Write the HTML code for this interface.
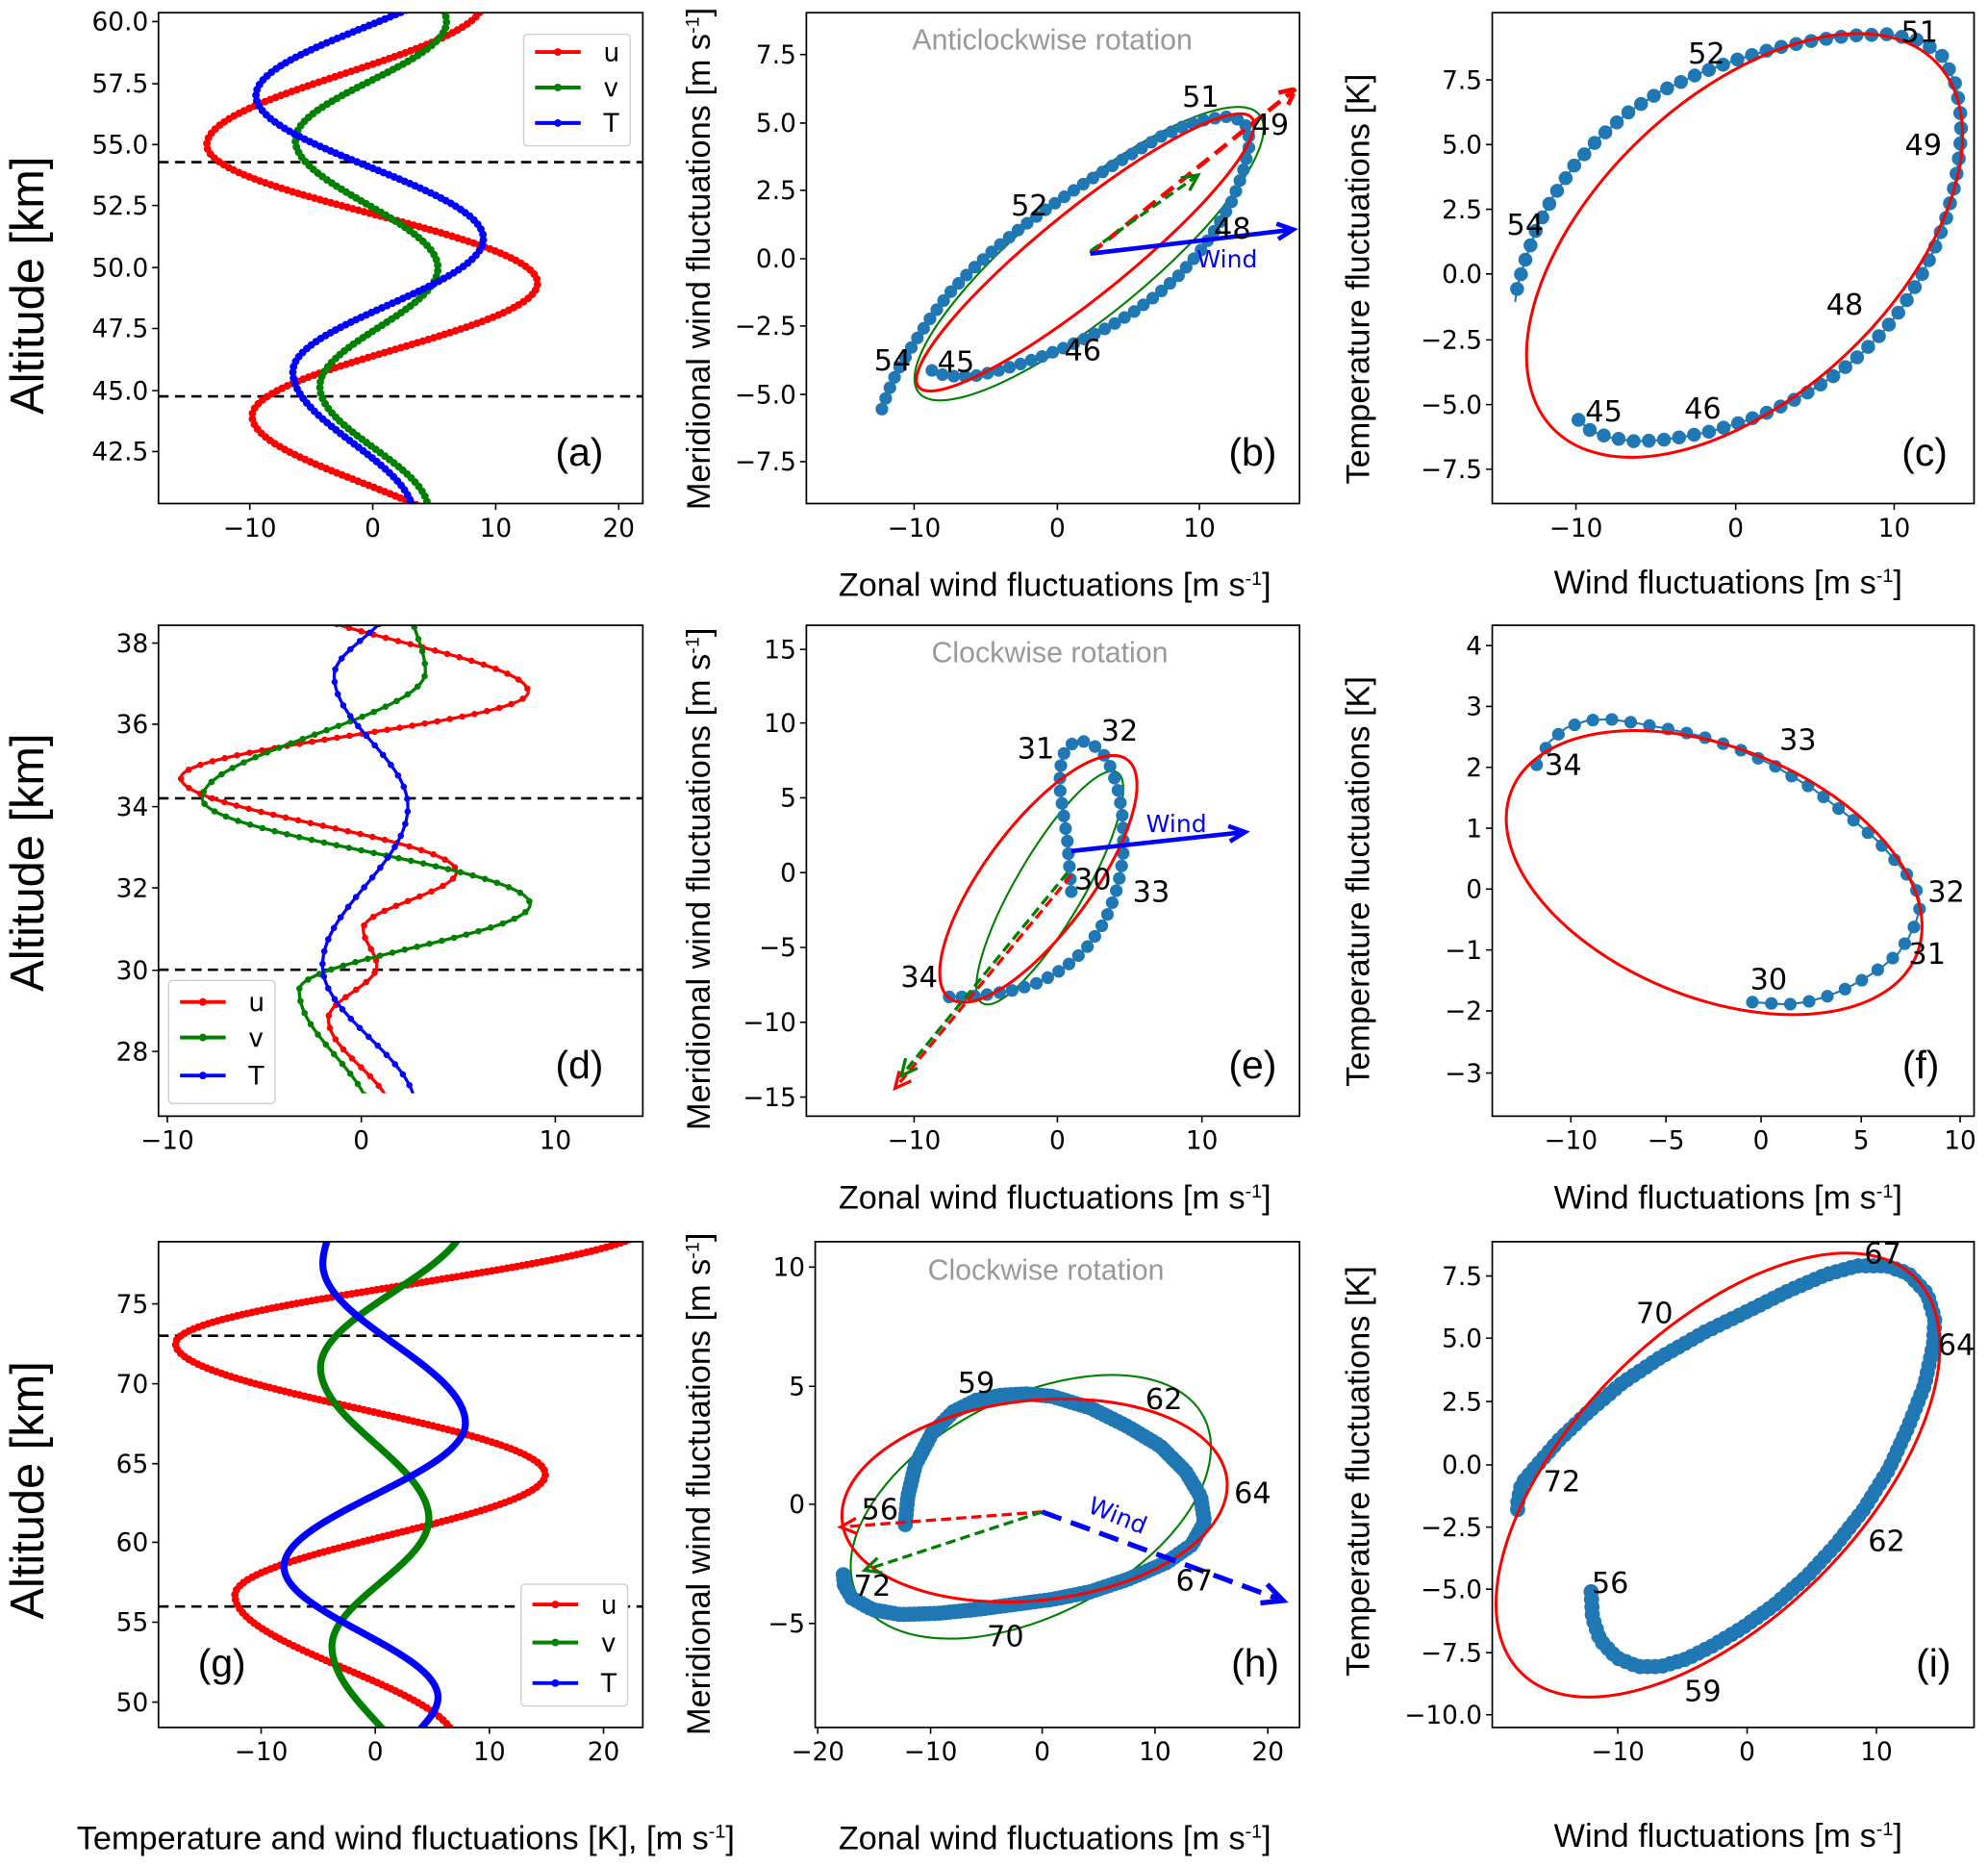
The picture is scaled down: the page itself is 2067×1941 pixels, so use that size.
<!DOCTYPE html>
<html><head><meta charset="utf-8"><style>
html,body{margin:0;padding:0;background:#fff}
svg{display:block}
text{font-family:"DejaVu Sans","Liberation Sans",sans-serif;fill:#000}
.yt{font-size:20px;text-anchor:end}
.xt{font-size:20px;text-anchor:middle}
.lab{font-family:"Liberation Sans",sans-serif;font-size:26px;text-anchor:middle}
.alt{font-family:"Liberation Sans",sans-serif;font-size:37px;text-anchor:middle}
.pl{font-family:"Liberation Sans",sans-serif;font-size:31px;text-anchor:middle}
.num{font-size:23px;text-anchor:middle}
.ttl{font-family:"Liberation Sans",sans-serif;font-size:23px;text-anchor:middle;fill:#999}
.lg{font-size:20px}
.bl{fill:none;stroke:#1f77b4;stroke-width:1.6}
.bd{fill:none;stroke:#1f77b4;stroke-linecap:round}
</style></head><body>
<svg xmlns="http://www.w3.org/2000/svg" width="2067" height="1941" viewBox="0 0 1568 1472" preserveAspectRatio="none">
<rect width="1568" height="1472" fill="#fff"/>
<defs>
<clipPath id="ca"><rect x="125" y="10" width="382" height="387"/></clipPath>
<clipPath id="cd"><rect x="125" y="493" width="382" height="369"/></clipPath>
<clipPath id="cg"><rect x="125" y="979" width="382" height="383"/></clipPath>
</defs>

<g stroke="#000" stroke-width="2" stroke-dasharray="8,5"><line x1="125" y1="127.8" x2="507" y2="127.8"/><line x1="125" y1="312.5" x2="507" y2="312.5"/>
<line x1="125" y1="629.4" x2="507" y2="629.4"/><line x1="125" y1="764.6" x2="507" y2="764.6"/>
<line x1="125" y1="1053.1" x2="507" y2="1053.1"/><line x1="125" y1="1266.6" x2="507" y2="1266.6"/></g>
<g clip-path="url(#ca)" fill="none" stroke-linecap="round">
<g stroke="#f00"><path d="M381.3,1.5 C381.3,42.1 163.1,73.6 163.1,114.2 C163.1,153.4 424,183.9 424,223.1 C424,260.9 198.9,290.2 198.9,328 C198.9,365.8 371.6,395.2 371.6,433" stroke-width="3"/>
<path d="M381.3,1.5 C381.3,42.1 163.1,73.6 163.1,114.2 C163.1,153.4 424,183.9 424,223.1 C424,260.9 198.9,290.2 198.9,328 C198.9,365.8 371.6,395.2 371.6,433" stroke-width="6" stroke-dasharray="0 4.5"/></g>
<g stroke="#008000"><path d="M235.8,-80.2 C235.8,-45.2 352.2,-18 352.2,17 C352.2,50.6 232.9,76.7 232.9,110.3 C232.9,146.7 345.4,175 345.4,211.4 C345.4,245 252.3,271.1 252.3,304.7 C252.3,339.7 337.7,366.9 337.7,401.9" stroke-width="3"/>
<path d="M235.8,-80.2 C235.8,-45.2 352.2,-18 352.2,17 C352.2,50.6 232.9,76.7 232.9,110.3 C232.9,146.7 345.4,175 345.4,211.4 C345.4,245 252.3,271.1 252.3,304.7 C252.3,339.7 337.7,366.9 337.7,401.9" stroke-width="6" stroke-dasharray="0 4.5"/></g>
<g stroke="#00f"><path d="M371.6,-31.6 C371.6,6.9 201.9,36.8 201.9,75.3 C201.9,115.9 381.3,147.5 381.3,188.1 C381.3,225.9 231,255.2 231,293 C231,333.6 326,365.2 326,405.8" stroke-width="3"/>
<path d="M371.6,-31.6 C371.6,6.9 201.9,36.8 201.9,75.3 C201.9,115.9 381.3,147.5 381.3,188.1 C381.3,225.9 231,255.2 231,293 C231,333.6 326,365.2 326,405.8" stroke-width="6" stroke-dasharray="0 4.5"/></g>
</g>

<g clip-path="url(#cd)" fill="none" stroke-linecap="round">
<g stroke="#f00"><path d="M223.8,468.4 C223.8,496.2 416.6,517.8 416.6,545.6 C416.6,570 142.7,588.9 142.7,613.3 C142.7,639.9 360,660.7 360,687.3 C360,703.5 286.5,716.2 286.5,732.4 C286.5,742.8 297.2,751 297.2,761.4 C297.2,776.4 259,788.2 259,803.2 C259,829.9 308,850.6 308,877.3" stroke-width="2.5"/>
<path d="M223.8,468.4 C223.8,496.2 416.6,517.8 416.6,545.6 C416.6,570 142.7,588.9 142.7,613.3 C142.7,639.9 360,660.7 360,687.3 C360,703.5 286.5,716.2 286.5,732.4 C286.5,742.8 297.2,751 297.2,761.4 C297.2,776.4 259,788.2 259,803.2 C259,829.9 308,850.6 308,877.3" stroke-width="5" stroke-dasharray="0 10"/></g>
<g stroke="#008000"><path d="M323.3,474.8 C323.3,494.5 335.5,509.8 335.5,529.5 C335.5,565.5 159.5,593.4 159.5,629.4 C159.5,659.5 418.1,683 418.1,713.1 C418.1,737.4 236,756.4 236,780.7 C236,817.8 292.7,846.6 292.7,883.7" stroke-width="2.5"/>
<path d="M323.3,474.8 C323.3,494.5 335.5,509.8 335.5,529.5 C335.5,565.5 159.5,593.4 159.5,629.4 C159.5,659.5 418.1,683 418.1,713.1 C418.1,737.4 236,756.4 236,780.7 C236,817.8 292.7,846.6 292.7,883.7" stroke-width="5" stroke-dasharray="0 10"/></g>
<g stroke="#00f"><path d="M308,474.8 C308,495.7 263.6,511.9 263.6,532.8 C263.6,569.9 321.7,598.7 321.7,635.8 C321.7,681 254.4,716.2 254.4,761.4 C254.4,802 327.8,833.5 327.8,874.1" stroke-width="2.5"/>
<path d="M308,474.8 C308,495.7 263.6,511.9 263.6,532.8 C263.6,569.9 321.7,598.7 321.7,635.8 C321.7,681 254.4,716.2 254.4,761.4 C254.4,802 327.8,833.5 327.8,874.1" stroke-width="5" stroke-dasharray="0 10"/></g>
</g>

<g clip-path="url(#cg)" fill="none" stroke-linecap="round">
<g stroke="#f00"><path d="M512,965.2 C512,999.1 138.5,1025.5 138.5,1059.4 C138.5,1096.5 430.1,1125.3 430.1,1162.4 C430.1,1196.7 185.3,1223.5 185.3,1257.8 C185.3,1299.4 359,1331.8 359,1373.4" stroke-width="3.5"/>
<path d="M512,965.2 C512,999.1 138.5,1025.5 138.5,1059.4 C138.5,1096.5 430.1,1125.3 430.1,1162.4 C430.1,1196.7 185.3,1223.5 185.3,1257.8 C185.3,1299.4 359,1331.8 359,1373.4" stroke-width="6" stroke-dasharray="0 4"/></g>
<path d="M368,958.9 C368,1001.8 252.8,1035.3 252.8,1078.2 C252.8,1121.2 338.3,1154.6 338.3,1197.6 C338.3,1233.7 261.8,1261.9 261.8,1298 C261.8,1341 332,1374.4 332,1417.4" stroke="#008000" stroke-width="5.5"/>
<path d="M269,940.1 C269,960.4 254.6,976.3 254.6,996.6 C254.6,1041.8 367.1,1077 367.1,1122.2 C367.1,1162.9 224,1194.5 224,1235.2 C224,1272.3 345.5,1301.1 345.5,1338.2 C345.5,1357.6 314,1372.8 314,1392.2" stroke="#00f" stroke-width="5.5"/>
</g>

<g stroke="#000" stroke-width="1.2" fill="none">
<path d="M120,17h5M120,66h5M120,114h5M120,162h5M120,211h5M120,259h5M120,308h5M120,356h5M197,397v5M294,397v5M391,397v5M488,397v5"/>
<path d="M631,43h5M631,97h5M631,150h5M631,204h5M631,257h5M631,311h5M631,364h5M721,397v5M834,397v5M946,397v5"/>
<path d="M1172,63h5M1172,114h5M1172,165h5M1172,216h5M1172,268h5M1172,319h5M1172,370h5M1243,397v5M1369,397v5M1494,397v5"/>
<path d="M120,507h5M120,571h5M120,636h5M120,700h5M120,765h5M120,829h5M132,880v5M285,880v5M438,880v5"/>
<path d="M631,512h5M631,570h5M631,629h5M631,688h5M631,747h5M631,806h5M631,865h5M721,880v5M834,880v5M948,880v5"/>
<path d="M1172,509h5M1172,557h5M1172,605h5M1172,653h5M1172,701h5M1172,749h5M1172,797h5M1172,846h5M1239,880v5M1314,880v5M1389,880v5M1468,880v5M1546,880v5"/>
<path d="M120,1028h5M120,1091h5M120,1154h5M120,1216h5M120,1279h5M120,1342h5M206,1362v5M296,1362v5M386,1362v5M476,1362v5"/>
<path d="M638,999h5M638,1093h5M638,1186h5M638,1280h5M645,1362v5M734,1362v5M822,1362v5M911,1362v5M1000,1362v5"/>
<path d="M1172,1006h5M1172,1055h5M1172,1105h5M1172,1155h5M1172,1204h5M1172,1253h5M1172,1303h5M1172,1352h5M1276,1362v5M1378,1362v5M1480,1362v5"/>
</g>

<ellipse cx="859" cy="200" rx="173.3" ry="48" transform="rotate(-39.2 859 200)" fill="none" stroke="#008000" stroke-width="1.6"/>
<polyline class="bl" points="735,292 745,296 758,297 772,296 788,292 805,287 822,281 840,274 858,266 876,257 894,246 912,233 930,217 946,199 960,179 972,158 980,137 985,117 985,103 980,95 968,92 952,94 935,99 915,108 895,120 872,134 850,148 828,163 806,179 785,196 765,214 748,232 733,252 720,272 708,292 700,310 694,327"/>
<polyline class="bd" stroke-width="10" stroke-dasharray="0 9" points="735,292 745,296 758,297 772,296 788,292 805,287 822,281 840,274 858,266 876,257 894,246 912,233 930,217 946,199 960,179 972,158 980,137 985,117 985,103 980,95 968,92 952,94 935,99 915,108 895,120 872,134 850,148 828,163 806,179 785,196 765,214 748,232 733,252 720,272 708,292 700,310 694,327"/>
<ellipse cx="856" cy="199" rx="168.9" ry="34" transform="rotate(-38.9 856 199)" fill="none" stroke="#f00" stroke-width="2.3"/>
<g fill="none">
<path d="M860,200L1022,70M1008.4,73.1L1022,70L1016,82.6" stroke="#f00" stroke-width="3.5" stroke-dasharray="12,6"/>
<path d="M860,198L945,138" stroke="#008000" stroke-width="2.5" stroke-dasharray="8,4"/><path d="M931.2,140.3L945,138L938.2,150.2" stroke="#008000" stroke-width="2.5"/>
<path d="M860,200L1020,181M1006.8,176.4L1020,181L1008.2,188.5" stroke="#00f" stroke-width="3.5"/>
</g>

<polyline class="bl" points="1245,331 1255,340 1270,345 1290,348 1310,347 1330,344 1350,340 1370,334 1390,327 1410,318 1430,307 1450,294 1468,279 1485,262 1500,243 1513,222 1525,198 1535,172 1542,145 1546,118 1547,95 1543,68 1533,45 1515,32 1490,27 1460,28 1430,32 1400,38 1370,47 1340,58 1310,72 1285,88 1262,108 1242,130 1225,155 1212,180 1203,205 1197,225 1195,238"/>
<polyline class="bd" stroke-width="11" stroke-dasharray="0 12" points="1245,331 1255,340 1270,345 1290,348 1310,347 1330,344 1350,340 1370,334 1390,327 1410,318 1430,307 1450,294 1468,279 1485,262 1500,243 1513,222 1525,198 1535,172 1542,145 1546,118 1547,95 1543,68 1533,45 1515,32 1490,27 1460,28 1430,32 1400,38 1370,47 1340,58 1310,72 1285,88 1262,108 1242,130 1225,155 1212,180 1203,205 1197,225 1195,238"/>
<ellipse cx="1376" cy="193.5" rx="209" ry="117.4" transform="rotate(-43.4 1376 193.5)" fill="none" stroke="#f00" stroke-width="2.3"/>

<ellipse cx="828" cy="700" rx="105.4" ry="26.7" transform="rotate(-59.7 828 700)" fill="none" stroke="#008000" stroke-width="1.6"/>
<polyline class="bl" points="845,703 844,690 843,677 842,664 840,650 838,636 836,622 836,608 838,596 843,588 850,584 858,585 866,590 873,598 878,610 882,624 885,640 886,656 886,672 884,688 880,704 875,718 868,732 858,746 846,758 832,768 816,776 798,781 780,784 762,786 745,786"/>
<polyline class="bd" stroke-width="10" stroke-dasharray="0 10" points="845,703 844,690 843,677 842,664 840,650 838,636 836,622 836,608 838,596 843,588 850,584 858,585 866,590 873,598 878,610 882,624 885,640 886,656 886,672 884,688 880,704 875,718 868,732 858,746 846,758 832,768 816,776 798,781 780,784 762,786 745,786"/>
<ellipse cx="819" cy="693" rx="117.3" ry="42" transform="rotate(-53.3 819 693)" fill="none" stroke="#f00" stroke-width="2.3"/>
<g fill="none">
<path d="M845,690L706,858" stroke="#f00" stroke-width="2.5" stroke-dasharray="8,4"/><path d="M718.7,852.2L706,858L709.3,844.4" stroke="#f00" stroke-width="2.5"/>
<path d="M842,688L711,848" stroke="#008000" stroke-width="2.5" stroke-dasharray="8,4"/><path d="M723.7,842.1L711,848L714.3,834.4" stroke="#008000" stroke-width="2.5"/>
<path d="M845,671L982,656M968.8,651.3L982,656L970.1,663.4" stroke="#00f" stroke-width="3.5"/>
</g>

<polyline class="bl" points="1212,603 1222,585 1235,574 1252,568 1270,567 1290,570 1312,574 1340,580 1370,590 1400,604 1430,622 1460,645 1482,664 1498,682 1510,697 1514,710 1514,718 1510,730 1505,740 1497,752 1485,762 1470,772 1455,780 1440,786 1425,790 1410,792 1395,791 1380,790"/>
<polyline class="bd" stroke-width="10" stroke-dasharray="0 15" points="1212,603 1222,585 1235,574 1252,568 1270,567 1290,570 1312,574 1340,580 1370,590 1400,604 1430,622 1460,645 1482,664 1498,682 1510,697 1514,710 1514,718 1510,730 1505,740 1497,752 1485,762 1470,772 1455,780 1440,786 1425,790 1410,792 1395,791 1380,790"/>
<ellipse cx="1352" cy="688" rx="172.4" ry="98.5" transform="rotate(22.1 1352 688)" fill="none" stroke="#f00" stroke-width="2.3"/>

<ellipse cx="813" cy="1188" rx="153.7" ry="85.8" transform="rotate(-27.4 813 1188)" fill="none" stroke="#008000" stroke-width="1.6"/>
<polyline class="bd" stroke-width="12" stroke-dasharray="0 4" points="714,1202 716,1180 722,1155 735,1130 752,1113 770,1104 790,1100 810,1099 830,1101 860,1110 890,1125 915,1140 935,1160 947,1180 950,1200 940,1218 920,1232 890,1245 860,1255 830,1261 800,1265 770,1269 740,1272 710,1273 688,1269 672,1260 666,1250 665,1240"/>
<ellipse cx="816" cy="1183" rx="152.6" ry="78.8" transform="rotate(-6.2 816 1183)" fill="none" stroke="#f00" stroke-width="2.3"/>
<g fill="none">
<path d="M822,1192L663,1204" stroke="#f00" stroke-width="2.5" stroke-dasharray="8,4"/><path d="M676,1209.1L663,1204L675.1,1197" stroke="#f00" stroke-width="2.5"/>
<path d="M822,1192L682,1238" stroke="#008000" stroke-width="2.5" stroke-dasharray="8,4"/><path d="M695.9,1239.9L682,1238L692.1,1228.3" stroke="#008000" stroke-width="2.5"/>
<path d="M822,1192L1012,1262" stroke="#00f" stroke-width="4" stroke-dasharray="16,8"/><path d="M999.5,1249.1L1012,1262L994.1,1263.8" stroke="#00f" stroke-width="4"/>
</g>

<polyline class="bd" stroke-width="12" stroke-dasharray="0 6" points="1255,1255 1256,1275 1262,1293 1275,1307 1292,1314 1310,1314 1330,1308 1350,1298 1375,1283 1400,1265 1425,1243 1448,1218 1470,1190 1490,1158 1505,1125 1518,1092 1525,1060 1526,1040 1520,1020 1505,1004 1488,998 1465,998 1440,1005 1410,1018 1380,1033 1345,1050 1310,1070 1280,1090 1253,1113 1230,1135 1210,1158 1200,1170 1197,1185 1197,1195"/>
<ellipse cx="1355" cy="1163" rx="220" ry="113.4" transform="rotate(-45 1355 1163)" fill="none" stroke="#f00" stroke-width="2.3"/>

<g fill="none" stroke="#000" stroke-width="1.3">
<rect x="125" y="10" width="382" height="387"/><rect x="636" y="10" width="389" height="387"/><rect x="1177" y="10" width="380" height="387"/>
<rect x="125" y="493" width="382" height="387"/><rect x="636" y="493" width="389" height="387"/><rect x="1177" y="493" width="380" height="387"/>
<rect x="125" y="979" width="382" height="383"/><rect x="643" y="979" width="382" height="383"/><rect x="1177" y="979" width="380" height="383"/>
</g>
<g>
<text class="yt" x="117" y="24">60.0</text><text class="yt" x="117" y="73">57.5</text><text class="yt" x="117" y="121">55.0</text><text class="yt" x="117" y="169">52.5</text><text class="yt" x="117" y="218">50.0</text><text class="yt" x="117" y="266">47.5</text><text class="yt" x="117" y="315">45.0</text><text class="yt" x="117" y="363">42.5</text>
<text class="xt" x="197" y="423">−10</text><text class="xt" x="294" y="423">0</text><text class="xt" x="391" y="423">10</text><text class="xt" x="488" y="423">20</text>
<text class="yt" x="628" y="50">7.5</text><text class="yt" x="628" y="104">5.0</text><text class="yt" x="628" y="157">2.5</text><text class="yt" x="628" y="211">0.0</text><text class="yt" x="628" y="264">−2.5</text><text class="yt" x="628" y="318">−5.0</text><text class="yt" x="628" y="371">−7.5</text>
<text class="xt" x="721" y="423">−10</text><text class="xt" x="834" y="423">0</text><text class="xt" x="946" y="423">10</text>
<text class="yt" x="1169" y="70">7.5</text><text class="yt" x="1169" y="121">5.0</text><text class="yt" x="1169" y="172">2.5</text><text class="yt" x="1169" y="223">0.0</text><text class="yt" x="1169" y="275">−2.5</text><text class="yt" x="1169" y="326">−5.0</text><text class="yt" x="1169" y="377">−7.5</text>
<text class="xt" x="1243" y="423">−10</text><text class="xt" x="1369" y="423">0</text><text class="xt" x="1494" y="423">10</text>
<text class="yt" x="117" y="514">38</text><text class="yt" x="117" y="578">36</text><text class="yt" x="117" y="643">34</text><text class="yt" x="117" y="707">32</text><text class="yt" x="117" y="772">30</text><text class="yt" x="117" y="836">28</text>
<text class="xt" x="132" y="906">−10</text><text class="xt" x="285" y="906">0</text><text class="xt" x="438" y="906">10</text>
<text class="yt" x="628" y="519">15</text><text class="yt" x="628" y="577">10</text><text class="yt" x="628" y="636">5</text><text class="yt" x="628" y="695">0</text><text class="yt" x="628" y="754">−5</text><text class="yt" x="628" y="813">−10</text><text class="yt" x="628" y="872">−15</text>
<text class="xt" x="721" y="906">−10</text><text class="xt" x="834" y="906">0</text><text class="xt" x="948" y="906">10</text>
<text class="yt" x="1169" y="516">4</text><text class="yt" x="1169" y="564">3</text><text class="yt" x="1169" y="612">2</text><text class="yt" x="1169" y="660">1</text><text class="yt" x="1169" y="708">0</text><text class="yt" x="1169" y="756">−1</text><text class="yt" x="1169" y="804">−2</text><text class="yt" x="1169" y="853">−3</text>
<text class="xt" x="1239" y="906">−10</text><text class="xt" x="1314" y="906">−5</text><text class="xt" x="1389" y="906">0</text><text class="xt" x="1468" y="906">5</text><text class="xt" x="1546" y="906">10</text>
<text class="yt" x="117" y="1035">75</text><text class="yt" x="117" y="1098">70</text><text class="yt" x="117" y="1161">65</text><text class="yt" x="117" y="1223">60</text><text class="yt" x="117" y="1286">55</text><text class="yt" x="117" y="1349">50</text>
<text class="xt" x="206" y="1388">−10</text><text class="xt" x="296" y="1388">0</text><text class="xt" x="386" y="1388">10</text><text class="xt" x="476" y="1388">20</text>
<text class="yt" x="635" y="1006">10</text><text class="yt" x="635" y="1100">5</text><text class="yt" x="635" y="1193">0</text><text class="yt" x="635" y="1287">−5</text>
<text class="xt" x="645" y="1388">−20</text><text class="xt" x="734" y="1388">−10</text><text class="xt" x="822" y="1388">0</text><text class="xt" x="911" y="1388">10</text><text class="xt" x="1000" y="1388">20</text>
<text class="yt" x="1169" y="1013">7.5</text><text class="yt" x="1169" y="1062">5.0</text><text class="yt" x="1169" y="1112">2.5</text><text class="yt" x="1169" y="1162">0.0</text><text class="yt" x="1169" y="1211">−2.5</text><text class="yt" x="1169" y="1260">−5.0</text><text class="yt" x="1169" y="1310">−7.5</text><text class="yt" x="1169" y="1359">−10.0</text>
<text class="xt" x="1276" y="1388">−10</text><text class="xt" x="1378" y="1388">0</text><text class="xt" x="1480" y="1388">10</text>
</g>
<text class="alt" transform="translate(34,225) rotate(-90)">Altitude [km]</text>
<text class="alt" transform="translate(34,680) rotate(-90)">Altitude [km]</text>
<text class="alt" transform="translate(34,1175) rotate(-90)">Altitude [km]</text>
<text class="lab" transform="translate(560,204) rotate(-90)">Meridional wind fluctuations [m s<tspan dy="-9" font-size="15">-1</tspan><tspan dy="9">]</tspan></text>
<text class="lab" transform="translate(560,693) rotate(-90)">Meridional wind fluctuations [m s<tspan dy="-9" font-size="15">-1</tspan><tspan dy="9">]</tspan></text>
<text class="lab" transform="translate(560,1170) rotate(-90)">Meridional wind fluctuations [m s<tspan dy="-9" font-size="15">-1</tspan><tspan dy="9">]</tspan></text>
<text class="lab" transform="translate(1080,220) rotate(-90)">Temperature fluctuations [K]</text>
<text class="lab" transform="translate(1080,695) rotate(-90)">Temperature fluctuations [K]</text>
<text class="lab" transform="translate(1080,1160) rotate(-90)">Temperature fluctuations [K]</text>
<text class="lab" x="832" y="470">Zonal wind fluctuations [m s<tspan dy="-9" font-size="15">-1</tspan><tspan dy="9">]</tspan></text>
<text class="lab" x="1363" y="468">Wind fluctuations [m s<tspan dy="-9" font-size="15">-1</tspan><tspan dy="9">]</tspan></text>
<text class="lab" x="832" y="953">Zonal wind fluctuations [m s<tspan dy="-9" font-size="15">-1</tspan><tspan dy="9">]</tspan></text>
<text class="lab" x="1363" y="953">Wind fluctuations [m s<tspan dy="-9" font-size="15">-1</tspan><tspan dy="9">]</tspan></text>
<text class="lab" x="320" y="1458">Temperature and  wind fluctuations [K], [m s<tspan dy="-9" font-size="15">-1</tspan><tspan dy="9">]</tspan></text>
<text class="lab" x="832" y="1458">Zonal wind fluctuations [m s<tspan dy="-9" font-size="15">-1</tspan><tspan dy="9">]</tspan></text>
<text class="lab" x="1363" y="1456">Wind fluctuations [m s<tspan dy="-9" font-size="15">-1</tspan><tspan dy="9">]</tspan></text>
<text class="ttl" x="830" y="39">Anticlockwise rotation</text>
<text class="ttl" x="828" y="522">Clockwise rotation</text>
<text class="ttl" x="825" y="1009">Clockwise rotation</text>
<text class="pl" x="457" y="367">(a)</text><text class="pl" x="988" y="367">(b)</text><text class="pl" x="1518" y="367">(c)</text>
<text class="pl" x="457" y="850">(d)</text><text class="pl" x="988" y="850">(e)</text><text class="pl" x="1515" y="850">(f)</text>
<text class="pl" x="175" y="1322">(g)</text><text class="pl" x="990" y="1322">(h)</text><text class="pl" x="1525" y="1322">(i)</text>
<g fill="#fff" stroke="#ccc" stroke-width="1"><rect x="413" y="27" width="84" height="88" rx="3"/><rect x="133" y="773" width="84" height="97" rx="3"/><rect x="411" y="1249" width="84" height="96" rx="3"/></g>
<g stroke-width="3">
<line x1="422" y1="41" x2="458" y2="41" stroke="#f00"/><circle cx="440" cy="41" r="3" fill="#f00"/>
<line x1="422" y1="69" x2="458" y2="69" stroke="#008000"/><circle cx="440" cy="69" r="3" fill="#008000"/>
<line x1="422" y1="97" x2="458" y2="97" stroke="#00f"/><circle cx="440" cy="97" r="3" fill="#00f"/>
<line x1="142" y1="790" x2="178" y2="790" stroke="#f00"/><circle cx="160" cy="790" r="3" fill="#f00"/>
<line x1="142" y1="818" x2="178" y2="818" stroke="#008000"/><circle cx="160" cy="818" r="3" fill="#008000"/>
<line x1="142" y1="848" x2="178" y2="848" stroke="#00f"/><circle cx="160" cy="848" r="3" fill="#00f"/>
<line x1="420" y1="1265" x2="456" y2="1265" stroke="#f00"/><circle cx="438" cy="1265" r="3" fill="#f00"/>
<line x1="420" y1="1295" x2="456" y2="1295" stroke="#008000"/><circle cx="438" cy="1295" r="3" fill="#008000"/>
<line x1="420" y1="1327" x2="456" y2="1327" stroke="#00f"/><circle cx="438" cy="1327" r="3" fill="#00f"/>
</g>
<g class="lg"><text x="476" y="48">u</text><text x="476" y="76">v</text><text x="476" y="104">T</text>
<text x="196" y="797">u</text><text x="196" y="825">v</text><text x="196" y="855">T</text>
<text x="474" y="1272">u</text><text x="474" y="1302">v</text><text x="474" y="1334">T</text></g>
<g class="num">
<text x="947" y="84">51</text><text x="1002" y="106">49</text><text x="812" y="170">52</text><text x="972" y="188">48</text><text x="854" y="284">46</text><text x="704" y="292">54</text><text x="754" y="293">45</text>
<text x="1514" y="33">51</text><text x="1346" y="50">52</text><text x="1517" y="122">49</text><text x="1203" y="185">54</text><text x="1455" y="248">48</text><text x="1343" y="330">46</text><text x="1265" y="332">45</text>
<text x="817" y="598">31</text><text x="883" y="584">32</text><text x="862" y="701">30</text><text x="908" y="711">33</text><text x="725" y="778">34</text>
<text x="1233" y="611">34</text><text x="1418" y="591">33</text><text x="1535" y="711">32</text><text x="1520" y="760">31</text><text x="1395" y="780">30</text>
<text x="770" y="1098">59</text><text x="918" y="1111">62</text><text x="988" y="1185">64</text><text x="694" y="1198">56</text><text x="688" y="1258">72</text><text x="942" y="1254">67</text><text x="793" y="1298">70</text>
<text x="1485" y="996">67</text><text x="1305" y="1043">70</text><text x="1543" y="1068">64</text><text x="1232" y="1176">72</text><text x="1488" y="1223">62</text><text x="1270" y="1256">56</text><text x="1343" y="1341">59</text>
</g>
<g font-size="19"><text x="944" y="211" style="fill:#00f">Wind</text><text x="904" y="656" style="fill:#00f">Wind</text><text transform="translate(857,1192) rotate(22)" style="fill:#00f">Wind</text></g>
</svg>
</body></html>
